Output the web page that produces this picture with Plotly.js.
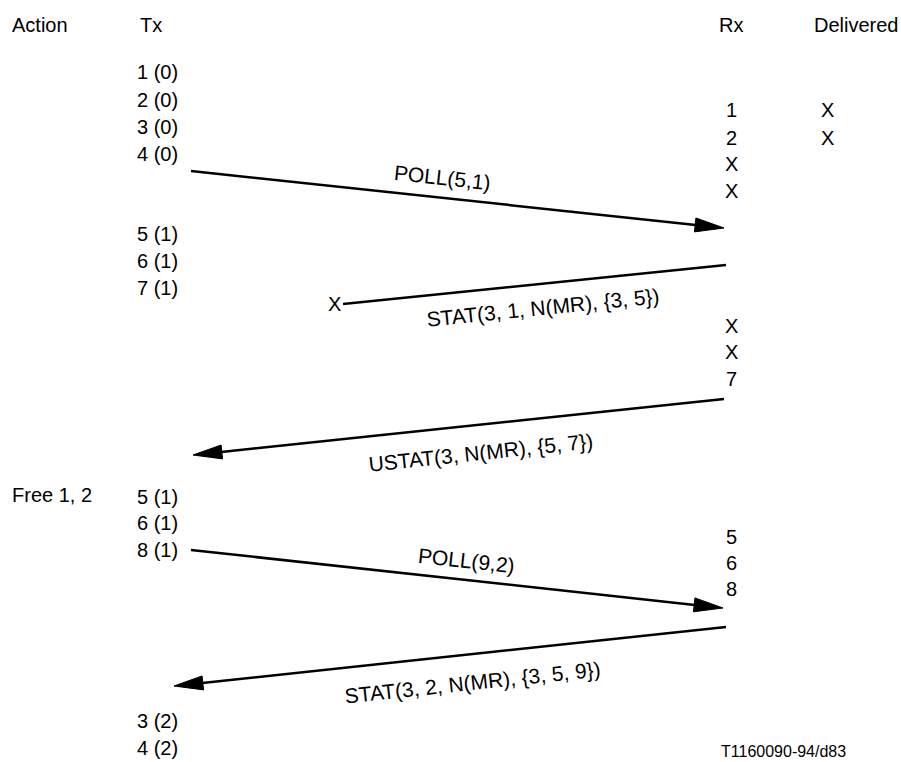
<!DOCTYPE html>
<html>
<head>
<meta charset="utf-8">
<script src="https://cdn.plot.ly/plotly-3.0.1.min.js"></script>
<style>html,body{margin:0;padding:0;background:#fff;}#chart{width:901px;height:762px;}</style>
</head>
<body>
<div id="chart"></div>
<script>
// ---- data ----
const headerLabels = ["Action", "Tx", "Rx", "Delivered"];
const headerX = [10, 138, 717, 812];
const headerY = 25;

const actionLabels = ["Free 1, 2"];
const actionRowY = [495];

const txLabels = ["1 (0)", "2 (0)", "3 (0)", "4 (0)", "5 (1)", "6 (1)", "7 (1)", "5 (1)", "6 (1)", "8 (1)", "3 (2)", "4 (2)"];
const txRowY = [72, 100, 127, 154, 234, 261, 288, 497, 523, 550, 721, 748];

const rxLabels = ["1", "2", "X", "X", "X", "X", "7", "5", "6", "8"];
const rxRowY = [110, 138, 164, 191, 326, 352, 379, 537, 563, 589];

const deliveredLabels = ["X", "X"];
const deliveredRowY = [110, 138];

const messages = ["POLL(5,1)", "STAT(3, 1, N(MR), {3, 5})", "USTAT(3, N(MR), {5, 7})", "POLL(9,2)", "STAT(3, 2, N(MR), {3, 5, 9})"];
const msgFromX = [191, 726, 724, 191, 726];
const msgFromY = [171, 265, 399, 550, 627];
const msgToX = [724, 343, 193, 723, 174];
const msgToY = [228, 304, 455, 608, 686];
const msgArrived = [true, false, true, true, true];
const msgLabelX = [442, 543, 481, 466, 472];
const msgLabelY = [177, 307, 452, 560, 682];

const footnote = "T1160090-94/d83";

// ---- layout constants ----
const W = 901, H = 762;
const FONT = "Liberation Sans, Arial, Helvetica, sans-serif";
const colX = {action: 10, tx: 135, rx: 731, delivered: 827};
const headLen = 29, headHalf = 7;

const traces = [];
const annotations = [];

function addText(txt, x, y, anchor, size, angle) {
  annotations.push({
    x: x, y: y, xref: "x", yref: "y", text: txt, showarrow: false,
    xanchor: anchor, yanchor: "middle", textangle: angle || 0,
    font: {family: FONT, size: size, color: "#000"}
  });
}

headerLabels.forEach((t, i) => addText(t, headerX[i], headerY, "left", 20));
actionLabels.forEach((t, i) => addText(t, colX.action, actionRowY[i], "left", 20));
txLabels.forEach((t, i) => addText(t, colX.tx, txRowY[i], "left", 20));
rxLabels.forEach((t, i) => addText(t, colX.rx, rxRowY[i], "center", 20));
deliveredLabels.forEach((t, i) => addText(t, colX.delivered, deliveredRowY[i], "center", 20));
addText(footnote, 719, 751, "left", 16);

messages.forEach((m, i) => {
  const x0 = msgFromX[i], y0 = msgFromY[i], x1 = msgToX[i], y1 = msgToY[i];
  const dx = x1 - x0, dy = y1 - y0, len = Math.hypot(dx, dy);
  const ux = dx / len, uy = dy / len;
  let lx = x1, ly = y1;
  if (msgArrived[i]) {
    lx = x1 - ux * headLen * 0.9; ly = y1 - uy * headLen * 0.9;
    const bx = x1 - ux * headLen, by = y1 - uy * headLen;
    traces.push({
      x: [x1, bx - uy * headHalf, bx + uy * headHalf, x1],
      y: [y1, by + ux * headHalf, by - ux * headHalf, y1],
      mode: "lines", fill: "toself", fillcolor: "#000",
      line: {color: "#000", width: 1}, hoverinfo: "skip", showlegend: false
    });
  } else {
    addText("X", x1 - 9, y1, "center", 20);
  }
  traces.push({
    x: [x0, lx], y: [y0, ly], mode: "lines",
    line: {color: "#000", width: 2.5}, hoverinfo: "skip", showlegend: false
  });
  let ang = Math.atan2(dy, dx) * 180 / Math.PI;
  if (ang > 90) ang -= 180;
  if (ang < -90) ang += 180;
  addText(m, msgLabelX[i], msgLabelY[i], "center", 21, ang);
});

const layout = {
  width: W, height: H,
  margin: {l: 0, r: 0, t: 0, b: 0},
  paper_bgcolor: "#fff", plot_bgcolor: "#fff",
  xaxis: {range: [0, W], visible: false, fixedrange: true},
  yaxis: {range: [H, 0], visible: false, fixedrange: true},
  showlegend: false,
  annotations: annotations
};

Plotly.newPlot("chart", traces, layout, {staticPlot: true, displayModeBar: false});
</script>
</body>
</html>
